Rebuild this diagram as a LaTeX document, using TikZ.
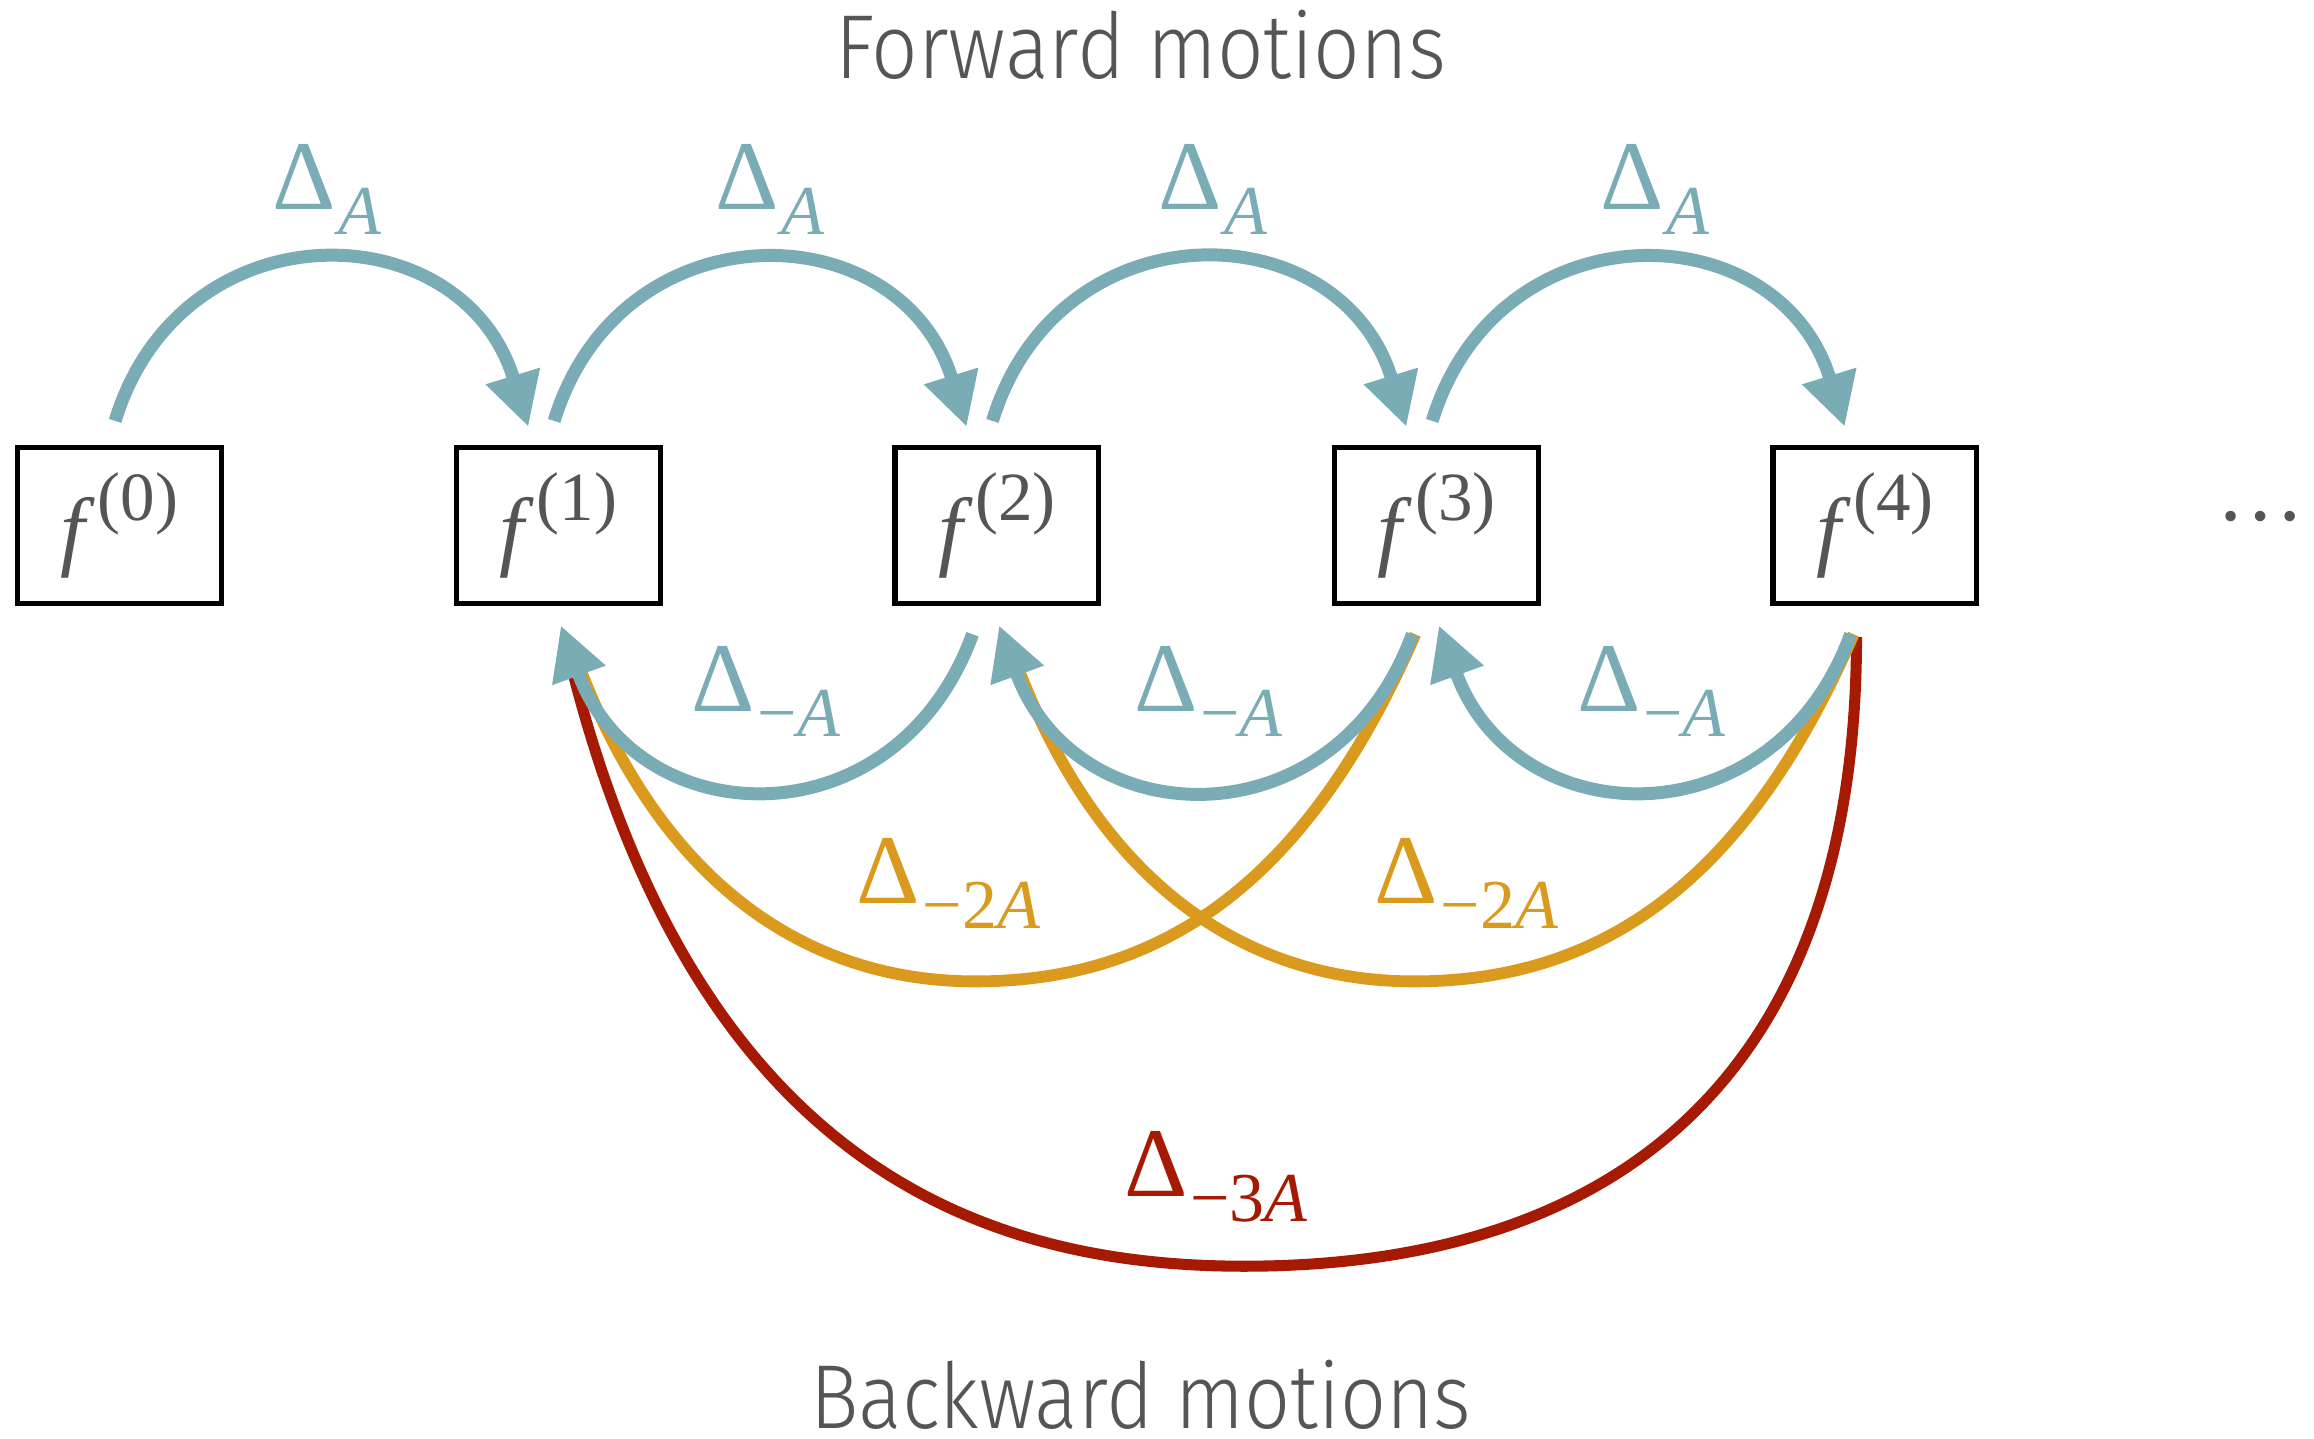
\documentclass[tikz,border=0pt]{standalone}
\usepackage{fontspec}
\setmainfont{Liberation Serif}
\newfontfamily\gill{Fira Sans}[UprightFont={* Light}]
\usetikzlibrary{arrows.meta}
\definecolor{fblue}{HTML}{7AACB5}
\definecolor{forange}{HTML}{DA9A1D}
\definecolor{fred}{HTML}{A61A04}
\definecolor{tgray}{HTML}{555555}
\newcommand\fsup[1]{\textit{f}\kern0.5pt\raisebox{7.4pt}{\fontsize{13.3}{14}\selectfont(#1)}}
\newcommand\dlab[1]{\fontsize{19}{20}\selectfont\symbol{"0394}\kern0.5pt\raisebox{-4.8pt}{\fontsize{13.5}{14}\selectfont#1}}
\begin{document}
\begin{tikzpicture}[x=0.01cm,y=0.01cm,
  fbox/.style={draw=black,line width=1pt,minimum width=1.38cm,minimum height=1.06cm,inner sep=0pt,font=\fontsize{17}{18}\selectfont,text=tgray},
  arr/.style={-{Triangle[length=0.36cm,width=0.36cm]}},
  bluearc/.style={draw=fblue,line width=0.088cm,arr},
  orarc/.style={draw=forange,line width=0.08cm},
  redarc/.style={draw=fred,line width=0.075cm},
  lab/.style={anchor=base west,inner sep=0pt},
  title/.style={anchor=base,inner sep=0pt,text=tgray,font=\gill\fontsize{17.5}{18}\selectfont}
]
\useasboundingbox (0,0) rectangle (1568,-975);
% boxes
\node[fbox] (f0) at (81,-356) {\fsup{0}};
\node[fbox] (f1) at (378.5,-356) {\fsup{1}};
\node[fbox] (f2) at (675.5,-356) {\fsup{2}};
\node[fbox] (f3) at (973.5,-356) {\fsup{3}};
\node[fbox] (f4) at (1270.5,-356) {\fsup{4}};
\node[anchor=base,inner sep=0pt,text=tgray,font=\fontsize{17}{18}\selectfont] (dots) at (1532,-353) {…};
% titles
\node[title] (fwdt) at (773,-53.5) {\scalebox{0.9}[1]{Forward motions}};
\node[title] (bwdt) at (773,-968) {\scalebox{0.89}[1]{Backward motions}};
% low points of the long arcs
\coordinate (rlow) at (843,-858);
\coordinate (olow1) at (661,-665);
\coordinate (olow2) at (958.3,-665);
% long backward arcs
\draw[redarc] ([shift={(-12.5,-21)}]f4.south) .. controls +(0,-300) and +(250,0) .. (rlow)
   .. controls +(-178,0) and +(86,-330) .. ([shift={(10.5,-48)}]f1.south);
\draw[orarc] ([shift={(-14.5,-19)}]f3.south) .. controls +(-74,-170) and +(125,0) .. (olow1)
   .. controls +(-61,0) and +(75,-190) .. ([shift={(16,-46)}]f1.south);
\draw[orarc] ([shift={(-14.5,-19)}]f4.south) .. controls +(-74,-170) and +(125,0) .. (olow2)
   .. controls +(-61,0) and +(75,-190) .. ([shift={(16,-46)}]f2.south);
% short backward arcs
\draw[bluearc] ([shift={(-16.5,-19)}]f2.south) to[out=-110,in=-70,looseness=1.39] ([shift={(1.5,-13)}]f1.south);
\draw[bluearc] ([shift={(-16.5,-19)}]f3.south) to[out=-110,in=-70,looseness=1.39] ([shift={(1.5,-13)}]f2.south);
\draw[bluearc] ([shift={(-16.5,-19)}]f4.south) to[out=-110,in=-70,looseness=1.39] ([shift={(1.5,-13)}]f3.south);
% forward arcs
\draw[bluearc] ([shift={(-3,16)}]f0.north) to[out=73,in=107,looseness=1.4] ([shift={(-20.5,12)}]f1.north);
\draw[bluearc] ([shift={(-3,16)}]f1.north) to[out=73,in=107,looseness=1.4] ([shift={(-20.5,12)}]f2.north);
\draw[bluearc] ([shift={(-3,16)}]f2.north) to[out=73,in=107,looseness=1.4] ([shift={(-20.5,12)}]f3.north);
\draw[bluearc] ([shift={(-3,16)}]f3.north) to[out=73,in=107,looseness=1.4] ([shift={(-20.5,12)}]f4.north);
% labels
\node[lab,text=fblue] (la0) at (184,-142) {\dlab{\textit{A}}};
\node[lab,text=fblue] (la1) at (484,-142) {\dlab{\textit{A}}};
\node[lab,text=fblue] (la2) at (784,-142) {\dlab{\textit{A}}};
\node[lab,text=fblue] (la3) at (1084,-142) {\dlab{\textit{A}}};
\node[lab,text=fblue] (lb1) at (468,-482) {\dlab{−\textit{A}}};
\node[lab,text=fblue] (lb2) at (768,-482) {\dlab{−\textit{A}}};
\node[lab,text=fblue] (lb3) at (1068,-482) {\dlab{−\textit{A}}};
\node[lab,text=forange] (lc1) at (580,-612) {\dlab{−2\textit{A}}};
\node[lab,text=forange] (lc2) at (931,-612) {\dlab{−2\textit{A}}};
\node[lab,text=fred] (ld1) at (761,-811) {\dlab{−3\textit{A}}};
\end{tikzpicture}
\end{document}
